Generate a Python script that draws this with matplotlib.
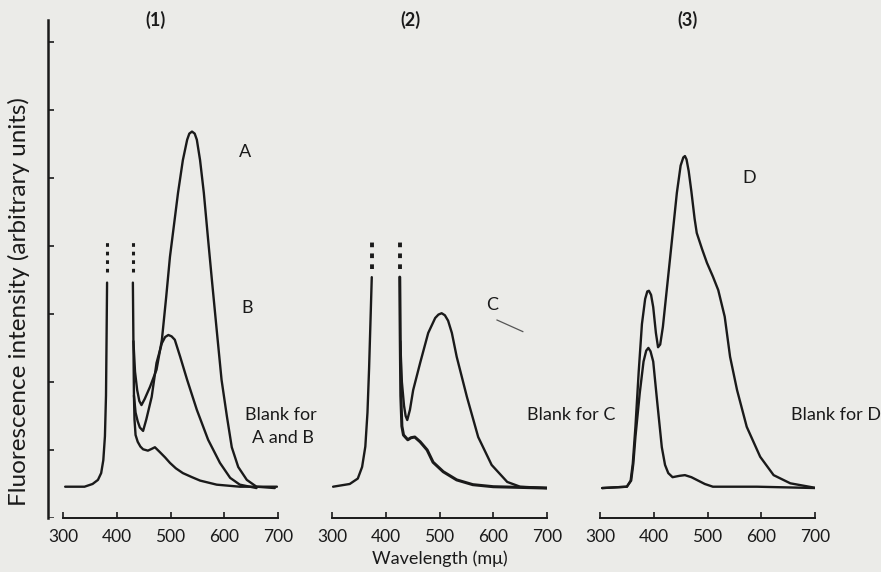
"""Fluorescence spectra (1)-(3) with their blanks, redrawn from a scanned figure."""

import matplotlib
matplotlib.use("Agg")
import matplotlib.pyplot as plt

plt.rcParams["font.family"] = ["Lato", "DejaVu Sans"]

# ---- data (wavelength in mu, intensity in axis tick units) ----
# panel (1): blank for A and B, split by the off-scale excitation peaks
blank_ab_rise_wl = [304, 340, 355, 365, 371, 375, 378, 380, 381, 382]
blank_ab_rise_i = [0.46, 0.46, 0.50, 0.56, 0.66, 0.85, 1.20, 1.80, 2.60, 3.46]
blank_ab_fall_wl = [430, 431, 432, 433, 435, 439, 444, 449, 458, 466, 471, 480, 490, 499, 510,
                    523, 540, 555, 586, 629, 698]
blank_ab_fall_i = [3.46, 2.60, 1.80, 1.45, 1.22, 1.12, 1.05, 1.01, 0.99, 1.02, 1.04, 0.97, 0.89,
                   0.81, 0.73, 0.66, 0.60, 0.55, 0.49, 0.46, 0.46]

a_wl = [431, 434, 438, 442, 446, 452, 462, 474, 484, 492, 499, 503, 514, 523, 531, 535, 540, 545,
        549, 555, 562, 570, 577, 586, 595, 605, 614, 626, 642, 660, 694]
a_i = [2.60, 2.15, 1.88, 1.72, 1.66, 1.75, 1.93, 2.18, 2.62, 3.25, 3.84, 4.09, 4.78, 5.26, 5.56,
       5.65, 5.68, 5.65, 5.56, 5.26, 4.78, 4.09, 3.50, 2.76, 2.03, 1.49, 1.04, 0.75, 0.56, 0.46,
       0.44]

b_wl = [432, 435, 439, 443, 449, 455, 465, 474, 484, 490, 496, 502, 508, 518, 531, 549, 570, 592,
        611, 629, 660]
b_i = [1.80, 1.55, 1.42, 1.33, 1.28, 1.45, 1.78, 2.28, 2.57, 2.66, 2.69, 2.67, 2.62, 2.37, 2.03,
       1.59, 1.15, 0.81, 0.59, 0.49, 0.44]

# panel (2): blank for C and C
blank_c_rise_wl = [302, 333, 348, 356, 362, 366, 369, 372, 374]
blank_c_rise_i = [0.46, 0.50, 0.58, 0.75, 1.05, 1.55, 2.20, 3.00, 3.54]
blank_c_fall_wl = [426, 427, 428, 430, 433, 441, 447, 454, 464, 477, 488, 507, 532, 562, 600, 700]
blank_c_fall_i = [3.54, 2.60, 1.80, 1.35, 1.22, 1.15, 1.18, 1.19, 1.12, 1.00, 0.82, 0.68, 0.56,
                  0.49, 0.46, 0.44]

c_wl = [427, 430, 434, 437, 440, 445, 451, 464, 479, 492, 498, 504, 510, 516, 523, 532, 551, 572,
        597, 626, 650, 702]
c_i = [2.60, 2.00, 1.65, 1.50, 1.44, 1.59, 1.88, 2.28, 2.72, 2.94, 2.99, 3.01, 2.98, 2.90, 2.72,
       2.37, 1.78, 1.19, 0.78, 0.53, 0.46, 0.44]

# panel (3): blank for D and D
blank_d_wl = [304, 350, 358, 362, 366, 374, 381, 386, 390, 394, 399, 406, 415, 421, 427, 435,
              448, 458, 470, 480, 495, 510, 592, 703]
blank_d_i = [0.44, 0.46, 0.55, 0.80, 1.20, 1.84, 2.30, 2.46, 2.50, 2.45, 2.30, 1.74, 1.04, 0.78,
             0.66, 0.60, 0.62, 0.63, 0.60, 0.56, 0.50, 0.46, 0.46, 0.44]

d_wl = [304, 350, 357, 361, 366, 372, 378, 384, 388, 391, 395, 399, 404, 408, 412, 417, 430, 443,
        450, 455, 458, 461, 465, 470, 476, 480, 490, 499, 510, 520, 532, 542, 555, 573, 598, 623,
        654, 703]
d_i = [0.44, 0.46, 0.55, 0.80, 1.35, 2.15, 2.85, 3.22, 3.33, 3.34, 3.28, 3.10, 2.72, 2.51, 2.55,
       2.81, 3.79, 4.78, 5.18, 5.30, 5.32, 5.27, 5.10, 4.80, 4.40, 4.19, 3.95, 3.75, 3.55, 3.35,
       2.96, 2.37, 1.88, 1.34, 0.90, 0.63, 0.51, 0.44]

# off-scale continuation marks (wavelength, start, end)
offscale_1 = [(382, 3.62, 4.05), (430, 3.62, 4.05)]
offscale_2 = [(374, 3.66, 4.10), (426, 3.66, 4.10)]

wl_ticks = [300, 400, 500, 600, 700]
y_ticks = [1, 2, 3, 4, 5, 6, 7]

# ---- layout (pixel geometry of the scan) ----
W, H = 881, 572
bg = "#ebebe8"
ink = "#1a1a1a"
y_top = 7.32
bottom = 1 - 518 / H
height = (518 - 20) / H

fig = plt.figure(figsize=(W / 100, H / 100), dpi=100, facecolor=bg)


def panel(x300):
    ax = fig.add_axes([x300 / W, bottom, 215 / W, height])
    ax.set_facecolor("none")
    ax.set_xlim(300, 700)
    ax.set_ylim(0, y_top)
    for side in ["top", "right", "left"]:
        ax.spines[side].set_visible(False)
    ax.spines["bottom"].set_color(ink)
    ax.spines["bottom"].set_linewidth(1.4)
    ax.set_xticks(wl_ticks)
    ax.set_yticks([])
    ax.tick_params(axis="x", direction="in", length=4, width=1.2, color=ink,
                   labelsize=12.5, labelcolor=ink, pad=8)
    return ax


def curve(ax, x, y, lw=1.7):
    ax.plot(x, y, color=ink, lw=lw, solid_capstyle="round", solid_joinstyle="round")


def offscale(ax, marks, lw=2.2):
    for wl, lo, hi in marks:
        ax.plot([wl, wl], [lo, hi], color=ink, lw=lw, linestyle=(0, (1.2, 1.6)))


# left intensity axis
ax0 = fig.add_axes([48 / W, bottom, 6 / W, height])
ax0.set_facecolor("none")
ax0.set_xlim(0, 1)
ax0.set_ylim(0, y_top)
for side in ["top", "right", "bottom"]:
    ax0.spines[side].set_visible(False)
ax0.spines["left"].set_linewidth(1.8)
ax0.spines["left"].set_color(ink)
ax0.set_xticks([])
ax0.set_yticks(y_ticks)
ax0.set_yticklabels([])
ax0.tick_params(axis="y", direction="in", length=4, width=1.2, color=ink)
ax0.plot([0, 0.8], [0, 0], color=ink, lw=1.8)

ax1 = panel(63)
curve(ax1, blank_ab_rise_wl, blank_ab_rise_i)
curve(ax1, blank_ab_fall_wl, blank_ab_fall_i)
curve(ax1, a_wl, a_i)
curve(ax1, b_wl, b_i)
offscale(ax1, offscale_1)

ax2 = panel(332)
curve(ax2, blank_c_rise_wl, blank_c_rise_i)
curve(ax2, blank_c_fall_wl, blank_c_fall_i, lw=2.2)
curve(ax2, c_wl, c_i)
offscale(ax2, offscale_2, lw=2.8)
ax2.plot([607, 655], [2.91, 2.74], color="#555555", lw=0.9)

ax3 = panel(600)
curve(ax3, blank_d_wl, blank_d_i)
curve(ax3, d_wl, d_i)


def px_text(x, y, s, **kw):
    fig.text(x / W, 1 - y / H, s, color=ink, ha="center", va="center", **kw)


px_text(155, 20, "(1)", fontsize=13, fontweight="bold")
px_text(410, 20, "(2)", fontsize=13, fontweight="bold")
px_text(688, 20, "(3)", fontsize=13, fontweight="bold")

px_text(245, 152, "A", fontsize=13)
px_text(247, 308, "B", fontsize=13)
px_text(281, 415, "Blank for", fontsize=13)
px_text(283, 438, "A and B", fontsize=13)
px_text(492, 305, "C", fontsize=13)
px_text(571, 415, "Blank for C", fontsize=13)
px_text(749, 178, "D", fontsize=13)
px_text(836, 415, "Blank for D", fontsize=13)

px_text(440, 559, "Wavelength (m\u03bc)", fontsize=13)
px_text(19, 302, "Fluorescence intensity (arbitrary units)", fontsize=17.5, rotation=90)

fig.savefig("out.png", dpi=100, facecolor=bg)
